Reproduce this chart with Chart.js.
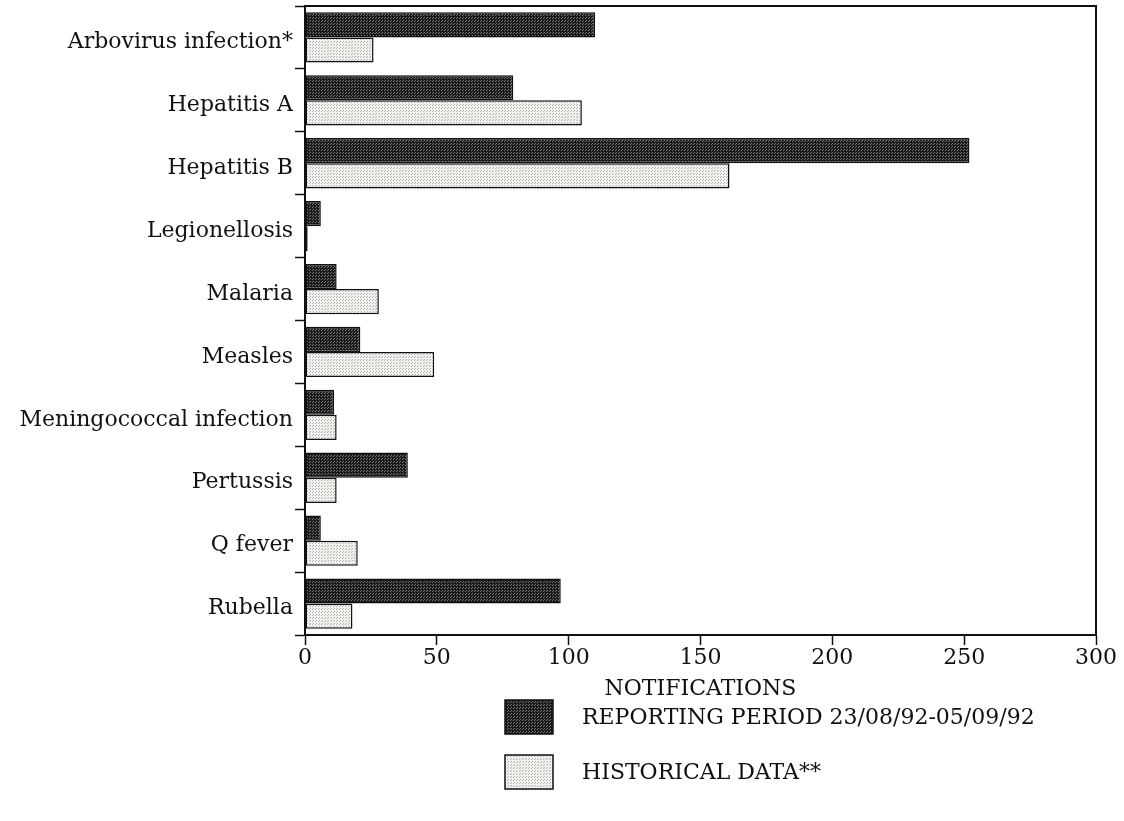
<!DOCTYPE html>
<html>
<head>
<meta charset="utf-8">
<style>
  html, body { margin: 0; padding: 0; background: #ffffff; }
  #wrap { width: 1124px; height: 821px; position: relative; }
</style>
<script src="https://cdn.jsdelivr.net/npm/chart.js@4/dist/chart.umd.min.js"></script>
</head>
<body>
<div id="wrap"><canvas id="c" width="1124" height="821"></canvas></div>
<script>
const categories = ["Arbovirus infection*", "Hepatitis A", "Hepatitis B", "Legionellosis", "Malaria", "Measles", "Meningococcal infection", "Pertussis", "Q fever", "Rubella"];
const reportingPeriod = [110, 79, 252, 6, 12, 21, 11, 39, 6, 97];
const historicalData = [26, 105, 161, 1, 28, 49, 12, 12, 20, 18];
const seriesLabels = ["REPORTING PERIOD 23/08/92-05/09/92", "HISTORICAL DATA**"];
const xTicks = [0, 50, 100, 150, 200, 250, 300];
const axisTitle = "NOTIFICATIONS";

const FONT = "'DejaVu Serif', 'Liberation Serif', serif";
const FS = 22;

function makePattern(bg, dot) {
  const t = document.createElement('canvas');
  t.width = 3; t.height = 3;
  const g = t.getContext('2d');
  g.fillStyle = bg; g.fillRect(0, 0, 3, 3);
  g.fillStyle = dot;
  g.fillRect(0, 0, 1, 1);
  g.fillRect(1, 2, 1, 1);
  return g.createPattern(t, 'repeat');
}
const darkFill = makePattern('#1a1a1a', '#7a7a7a');
const lightFill = makePattern('#f2f2ee', '#b0b0b0');

const frame = {
  id: 'frame',
  afterDatasetsDraw(chart) {
    const a = chart.chartArea, ctx = chart.ctx;
    ctx.save();
    ctx.strokeStyle = '#111';
    ctx.lineWidth = 2;
    ctx.strokeRect(a.left, a.top, a.right - a.left, a.bottom - a.top);
    ctx.restore();
  },
  afterDraw(chart) {
    const ctx = chart.ctx;
    ctx.save();
    const items = chart.data.datasets.map(d => ({ label: d.label, fill: d.backgroundColor }));
    const bx = 505, bw = 48, bh = 34, tx = 582;
    const ys = [700, 755];
    items.forEach((it, i) => {
      const y = ys[i];
      ctx.fillStyle = it.fill;
      ctx.fillRect(bx, y, bw, bh);
      ctx.strokeStyle = '#111';
      ctx.lineWidth = 1.5;
      ctx.strokeRect(bx, y, bw, bh);
      ctx.fillStyle = '#111';
      ctx.font = FS + "px " + FONT;
      ctx.textBaseline = 'middle';
      ctx.textAlign = 'left';
      ctx.fillText(it.label, tx, y + bh / 2 + 1);
    });
    ctx.restore();
  }
};

new Chart(document.getElementById('c'), {
  type: 'bar',
  data: {
    labels: categories,
    datasets: [
      { label: seriesLabels[0], data: reportingPeriod, backgroundColor: darkFill, borderColor: '#111', borderWidth: 1.5, borderSkipped: false },
      { label: seriesLabels[1], data: historicalData, backgroundColor: lightFill, borderColor: '#111', borderWidth: 1.5, borderSkipped: false }
    ]
  },
  options: {
    indexAxis: 'y',
    responsive: false,
    animation: false,
    devicePixelRatio: 1,
    layout: { padding: { top: 6, right: 28, left: 0, bottom: 116 } },
    datasets: { bar: { barPercentage: 1.0, categoryPercentage: 0.8 } },
    plugins: { legend: { display: false }, tooltip: { enabled: false } },
    scales: {
      x: {
        min: 0, max: 300,
        afterBuildTicks(scale) { scale.ticks = xTicks.map(v => ({ value: v })); },
        afterFit(scale) { scale.height = 70; scale.paddingLeft = 0; scale.paddingRight = 0; },
        grid: { drawOnChartArea: false, color: '#111', tickLength: 10, tickWidth: 1.5 },
        border: { color: '#111', width: 2 },
        ticks: { color: '#111', font: { family: FONT, size: FS }, padding: 0, maxRotation: 0 },
        title: { display: true, text: axisTitle, color: '#111', font: { family: FONT, size: FS }, padding: { top: 0, bottom: 3 } }
      },
      y: {
        afterFit(scale) { scale.width = 305; scale.paddingTop = 0; scale.paddingBottom = 0; },
        grid: { drawOnChartArea: false, color: '#111', tickLength: 10, tickWidth: 1.5, offset: true },
        border: { color: '#111', width: 2 },
        ticks: { color: '#111', font: { family: FONT, size: FS }, padding: 2, labelOffset: 5 }
      }
    }
  },
  plugins: [frame]
});
</script>
</body>
</html>
